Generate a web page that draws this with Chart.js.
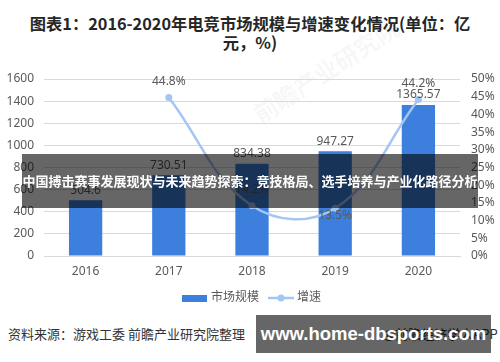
<!DOCTYPE html>
<html>
<head>
<meta charset="utf-8">
<script src="https://cdn.jsdelivr.net/npm/chart.js@4.4.1/dist/chart.umd.min.js"></script>
<style>
  html, body { margin: 0; padding: 0; background: #fff; }
  body { width: 500px; height: 362px; position: relative; overflow: hidden; font-family: 'Noto Sans CJK SC', sans-serif; }
  #title { position: absolute; left: 25px; top: 14px; width: 450px; text-align: center; font-size: 16.3px; font-weight: bold; line-height: 19px; color: #262626; }
  #wrap { position: absolute; left: 0; top: 60px; width: 500px; height: 254px; }
  #wm { position: absolute; left: 255px; top: 98px; font-size: 24px; font-weight: bold; color: rgba(0,0,0,0.05);
        transform: rotate(-33deg); transform-origin: left center; white-space: nowrap; }
  #source { position: absolute; left: 8px; top: 324px; font-size: 13px; color: #333; white-space: nowrap; }
  #app { position: absolute; left: 383px; top: 324px; font-size: 13px; color: #333; white-space: nowrap; }
  #banner { position: absolute; left: 22px; top: 154px; width: 456px; height: 54px; background: rgba(0,0,0,0.6);
            color: #fff; font-size: 13px; font-weight: bold; line-height: 54px; text-align: center; white-space: nowrap; }
  #mark { position: absolute; left: 256px; top: 315px; width: 235px; height: 38px; background: rgba(0,0,0,0.6);
          color: #fff; font-family: 'Liberation Sans', sans-serif; font-size: 18.5px; font-weight: bold; line-height: 38px; text-align: center; white-space: nowrap; }
</style>
</head>
<body>
<div id="title">图表1：2016-2020年电竞市场规模与增速变化情况(单位：亿元，%)</div>
<div id="wm">前瞻产业研究院</div>
<div id="wrap"><canvas id="chart"></canvas></div>
<div id="source">资料来源：游戏工委 前瞻产业研究院整理</div>
<div id="app">@前瞻经济学人APP</div>
<div id="banner">中国搏击赛事发展现状与未来趋势探索：竞技格局、选手培养与产业化路径分析</div>
<div id="mark">www.home-dbsports.com</div>
<script>
// data
const years = ['2016', '2017', '2018', '2019', '2020'];
const marketSize = [504.6, 730.51, 834.38, 947.27, 1365.57];   // 亿元
const growthRate = [null, 44.8, 14.2, 13.5, 44.2];              // %
const leftTicks = [0, 200, 400, 600, 800, 1000, 1200, 1400, 1600];
const rightTicks = [0, 5, 10, 15, 20, 25, 30, 35, 40, 45, 50];

const BAR = '#3c7fdd';
const LINE = '#a4c6f2';
const TXT = '#595959';
const FONT = "'Noto Sans', 'Noto Sans CJK SC', sans-serif";

// legend symbols
function barSymbol() {
  const c = document.createElement('canvas');
  c.width = 25; c.height = 7;
  const g = c.getContext('2d');
  g.fillStyle = BAR;
  g.fillRect(0, 0, 25, 7);
  return c;
}
function lineSymbol() {
  const c = document.createElement('canvas');
  c.width = 26; c.height = 8;
  const g = c.getContext('2d');
  g.strokeStyle = LINE; g.lineWidth = 2.5;
  g.beginPath(); g.moveTo(0, 4); g.lineTo(26, 4); g.stroke();
  g.fillStyle = LINE;
  g.beginPath(); g.arc(13, 4, 3.5, 0, Math.PI * 2); g.fill();
  return c;
}

// value labels drawn at element positions from the library
const valueLabels = {
  id: 'valueLabels',
  afterDatasetsDraw(chart) {
    const ctx = chart.ctx;
    ctx.save();
    ctx.font = '12px ' + FONT;
    ctx.fillStyle = TXT;
    ctx.textAlign = 'center';

    const bars = chart.getDatasetMeta(0).data;
    ctx.textBaseline = 'bottom';
    bars.forEach((b, i) => {
      ctx.fillText(String(marketSize[i]), b.x, b.y - 4);
    });

    const pts = chart.getDatasetMeta(1).data;
    pts.forEach((p, i) => {
      if (growthRate[i] == null) return;
      const txt = growthRate[i].toFixed(1) + '%';
      if (i === 3) {
        ctx.textBaseline = 'top';
        ctx.fillText(txt, p.x, p.y + 1);
      } else {
        ctx.textBaseline = 'bottom';
        ctx.fillText(txt, p.x, p.y - 10);
      }
    });
    ctx.restore();
  }
};

new Chart(document.getElementById('chart'), {
  data: {
    labels: years,
    datasets: [
      {
        type: 'bar',
        label: '市场规模',
        data: marketSize,
        backgroundColor: BAR,
        yAxisID: 'y',
        barPercentage: 0.4,
        categoryPercentage: 1,
        order: 2
      },
      {
        type: 'line',
        label: '增速',
        data: growthRate,
        borderColor: LINE,
        backgroundColor: LINE,
        borderWidth: 2.5,
        pointRadius: 3.5,
        pointBackgroundColor: LINE,
        pointBorderWidth: 0,
        tension: 0.4,
        yAxisID: 'y1',
        order: 1
      }
    ]
  },
  options: {
    responsive: true,
    maintainAspectRatio: false,
    animation: false,
    layout: { padding: { top: 19, bottom: 0, left: 6, right: 0 } },
    plugins: {
      legend: {
        position: 'bottom',
        labels: {
          usePointStyle: true,
          pointStyleWidth: 20,
          boxHeight: 8,
          padding: 12,
          color: TXT,
          font: { size: 12, family: FONT },
          generateLabels: chart => [
            { text: '市场规模', pointStyle: barSymbol(), fillStyle: BAR, strokeStyle: BAR, lineWidth: 0, fontColor: TXT, datasetIndex: 0 },
            { text: '增速', pointStyle: lineSymbol(), fillStyle: LINE, strokeStyle: LINE, lineWidth: 0, fontColor: TXT, datasetIndex: 1 }
          ]
        }
      },
      tooltip: { enabled: false }
    },
    scales: {
      x: {
        grid: { display: false, drawTicks: false },
        border: { color: '#d9d9d9' },
        ticks: { color: TXT, font: { size: 12, family: FONT }, padding: 8 },
        afterFit: s => { s.height = 24; }
      },
      y: {
        position: 'left',
        min: 0, max: 1600,
        afterBuildTicks: s => { s.ticks = leftTicks.map(v => ({ value: v })); },
        grid: { color: '#d9d9d9', drawTicks: false },
        border: { display: false },
        ticks: { color: TXT, font: { size: 12, family: FONT }, padding: 10, callback: v => String(v) },
        afterFit: s => { s.width = 38; }
      },
      y1: {
        position: 'right',
        min: 0, max: 50,
        afterBuildTicks: s => { s.ticks = rightTicks.map(v => ({ value: v })); },
        grid: { display: false, drawTicks: false },
        border: { display: false },
        ticks: { color: TXT, font: { size: 12, family: FONT }, padding: 11, callback: v => v + '%' },
        afterFit: s => { s.width = 40; }
      }
    }
  },
  plugins: [valueLabels]
});
</script>
</body>
</html>
